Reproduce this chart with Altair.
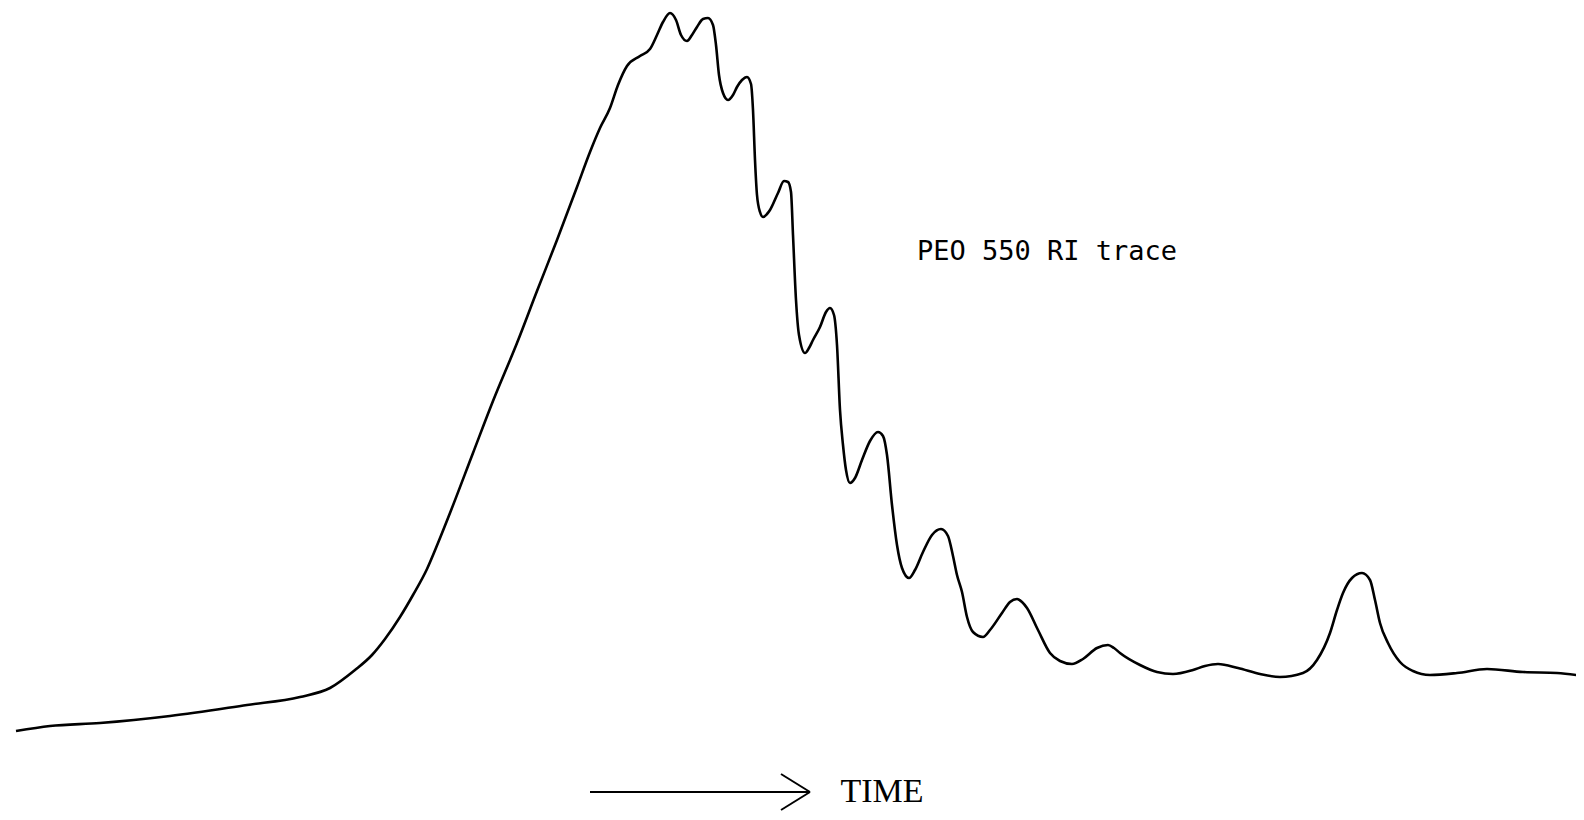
import altair as alt
import pandas as pd

# RI detector trace: time (page x) and vertical reading (page y)
trace_time = [16, 50, 100, 170, 247, 300, 330, 355, 372, 385, 400, 413, 427, 438, 450, 473, 493, 517, 537, 557, 577,
              590, 600, 610, 618, 627, 640, 650, 657, 663, 670, 676, 681, 687, 692, 697, 703, 708, 713,
              716, 719, 723, 728, 733, 737, 742, 747, 751, 753, 755, 757, 760, 763, 767, 770, 778, 784,
              788, 791, 793, 796, 799, 805, 809, 813, 820, 826, 830, 834, 837, 840, 843, 846, 850, 855,
              862, 870, 878, 883, 887, 892, 897, 902, 909, 915, 923, 932, 941, 948, 953, 957, 962, 967,
              973, 983, 990, 1002, 1010, 1017, 1022, 1027, 1038, 1050, 1060, 1072, 1083, 1097, 1108,
              1114, 1120, 1140, 1157, 1173, 1193, 1205, 1218, 1238, 1260, 1280, 1303, 1317, 1330, 1337,
              1343, 1352, 1362, 1370, 1375, 1380, 1388, 1400, 1413, 1430, 1457, 1487, 1523, 1557, 1584]
trace_y = [731, 726, 723, 716, 705, 697, 688, 670, 655, 639, 617, 595, 569, 543, 513, 453, 401, 343, 291, 240, 187,
           152, 128, 108, 85, 66, 56, 49, 35, 22, 13, 20, 35, 41, 35, 27, 19, 18, 25,
           45, 75, 93, 100, 95, 87, 80, 77, 84, 110, 160, 195, 212, 217, 214, 210, 193, 181,
           182, 192, 235, 300, 335, 353, 348, 340, 327, 312, 308, 315, 345, 410, 445, 470, 483, 478,
           460, 441, 432, 436, 455, 505, 545, 568, 578, 570, 552, 535, 529, 536, 556, 575, 592, 617,
           632, 637, 630, 613, 602, 599, 602, 608, 630, 653, 661, 664, 659, 648, 645,
           648, 653, 665, 672, 674, 670, 666, 664, 668, 674, 677, 673, 660, 633, 610,
           593, 578, 573, 580, 600, 623, 643, 662, 671, 675, 673, 669, 672, 673, 676]

PAGE_H = 820
trace_level = [PAGE_H - v for v in trace_y]

# annotations
label_text = ["PEO 550 RI trace"]
label_time = [1047]
label_y = [260]
time_text = ["TIME"]
time_time = [882]
time_y = [802]
arrow_x1 = [590, 781, 781]
arrow_x2 = [810, 810, 810]
arrow_y1 = [792, 774, 810]
arrow_y2 = [792, 792, 792]

trace = pd.DataFrame({"time": trace_time, "level": trace_level})
labels = pd.DataFrame({"time": label_time, "level": [PAGE_H - v for v in label_y], "text": label_text})
tlabel = pd.DataFrame({"time": time_time, "level": [PAGE_H - v for v in time_y], "text": time_text})
arrow = pd.DataFrame({
    "time": arrow_x1, "time2": arrow_x2,
    "level": [PAGE_H - v for v in arrow_y1], "level2": [PAGE_H - v for v in arrow_y2],
})

xs = alt.Scale(domain=[8, 1576], nice=False, zero=False)
ys = alt.Scale(domain=[8, 812], nice=False, zero=False)

line = alt.Chart(trace).mark_line(color="black", strokeWidth=2.6, interpolate="monotone").encode(
    x=alt.X("time:Q", scale=xs, axis=None),
    y=alt.Y("level:Q", scale=ys, axis=None),
)

lab = alt.Chart(labels).mark_text(
    font="DejaVu Sans Mono", fontSize=27, color="black", align="center", baseline="alphabetic"
).encode(x=alt.X("time:Q", scale=xs, axis=None), y=alt.Y("level:Q", scale=ys, axis=None), text="text:N")

tl = alt.Chart(tlabel).mark_text(
    font="Liberation Serif", fontSize=34, color="black", align="center", baseline="alphabetic"
).encode(x=alt.X("time:Q", scale=xs, axis=None), y=alt.Y("level:Q", scale=ys, axis=None), text="text:N")

arr = alt.Chart(arrow).mark_rule(color="black", strokeWidth=2).encode(
    x=alt.X("time:Q", scale=xs, axis=None), x2="time2:Q",
    y=alt.Y("level:Q", scale=ys, axis=None), y2="level2:Q",
)

chart = alt.layer(line, lab, tl, arr).properties(
    width=1568, height=804, padding=0, autosize="none", background="white"
).configure_view(stroke=None)

chart.save("out.html", embed_options={"renderer": "svg", "actions": False})
